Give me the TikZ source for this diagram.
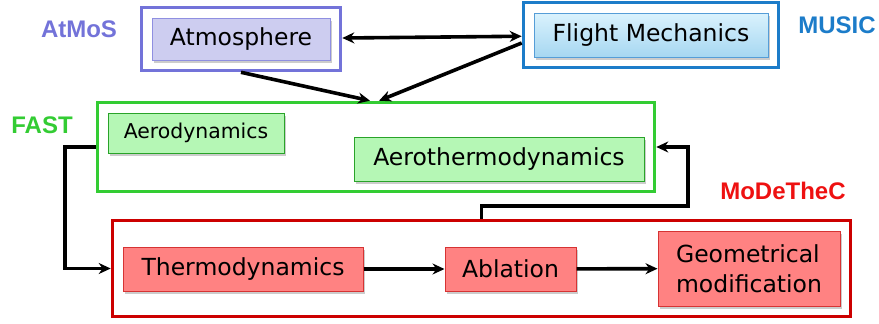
\documentclass[tikz,border=0pt]{standalone}
\usepackage{fontspec}
\setmainfont{DejaVu Sans}
\newfontfamily\labelfont{Liberation Sans}
\usepackage{tikz}
\usetikzlibrary{arrows.meta,fit,shadows}

\definecolor{atmosc}{HTML}{7373D9}
\definecolor{atmosfill}{HTML}{CDCDF0}
\definecolor{musicc}{HTML}{1C7CC9}
\definecolor{musictop}{HTML}{DAF2FD}
\definecolor{musicbot}{HTML}{A6D7F1}
\definecolor{fastc}{HTML}{33CC33}
\definecolor{fastfill}{HTML}{B5F7B5}
\definecolor{modc}{HTML}{CC0000}
\definecolor{modlab}{HTML}{EE1111}
\definecolor{modfill}{HTML}{FF8282}

\begin{document}
\begin{tikzpicture}[x=1pt, y=-1pt, line width=3.6pt, >={Stealth[length=12pt,width=11pt]},
  box/.style = {draw, line width=1pt, inner sep=0pt, font=\fontsize{23.5}{30}\selectfont,
    drop shadow={shadow xshift=2pt, shadow yshift=-3pt, opacity=0.4}},
  grp/.style = {draw, line width=3.6pt, inner sep=10pt},
  tag/.style = {font=\labelfont\bfseries\fontsize{24}{28}\selectfont}]
\useasboundingbox (0,0) rectangle (879,324);
% modules
\node[box, draw=atmosc!80, fill=atmosfill, minimum width=178pt, minimum height=42pt] (atm) at (241,39) {Atmosphere};
\node[box, draw=musicc!75, top color=musictop, bottom color=musicbot, minimum width=234pt, minimum height=44pt] (fm) at (651,35) {Flight Mechanics};
\node[box, draw=fastc!80!black, fill=fastfill, minimum width=176pt, minimum height=40pt, font=\fontsize{20.4}{24}\selectfont] (aero) at (196,133) {Aerodynamics};
\node[box, draw=fastc!80!black, fill=fastfill, minimum width=290pt, minimum height=44pt] (aeroth) at (499,159) {Aerothermodynamics};
\node[box, draw=modc!80, fill=modfill, minimum width=240pt, minimum height=44pt] (thermo) at (243,269) {Thermodynamics};
\node[box, draw=modc!80, fill=modfill, minimum width=131pt, minimum height=44pt] (abl) at (510.5,269) {Ablation};
\node[box, draw=modc!80, fill=modfill, minimum width=182pt, minimum height=75pt, align=left] (geo) at (749,268.5) {Geometrical\\modification};
% codes
\node[grp, draw=atmosc, fit=(atm)] (atmos) {};
\node[grp, draw=musicc, fit=(fm)] (music) {};
\node[grp, draw=fastc, fit=(aero) (aeroth)] (fast) {};
\node[grp, draw=modc, fit=(thermo) (abl) (geo)] (modethec) {};
\node[tag, text=atmosc] (atmoslab) at (79,29) {AtMoS};
\node[tag, text=musicc] (musiclab) at (837,25) {MUSIC};
\node[tag, text=fastc] (fastlab) at (42,125) {FAST};
\node[tag, text=modlab] (modlab) at (783,191) {MoDeTheC};
% links
\coordinate (ret) at (688,206);
\draw[<->] (atmos) -- (music);
\draw[->] (atmos.south) -- ([xshift=-6pt]fast.north);
\draw[->] ([yshift=-8pt]music.west) -- ([xshift=3pt]fast.north);
\draw[->] (fast.west) -- ++(-31,0) |- (modethec.west);
\draw[->] (modethec.north) |- (ret) |- (fast.east);
\draw[->] (thermo) -- (abl);
\draw[->] (abl) -- (geo);
\end{tikzpicture}
\end{document}
